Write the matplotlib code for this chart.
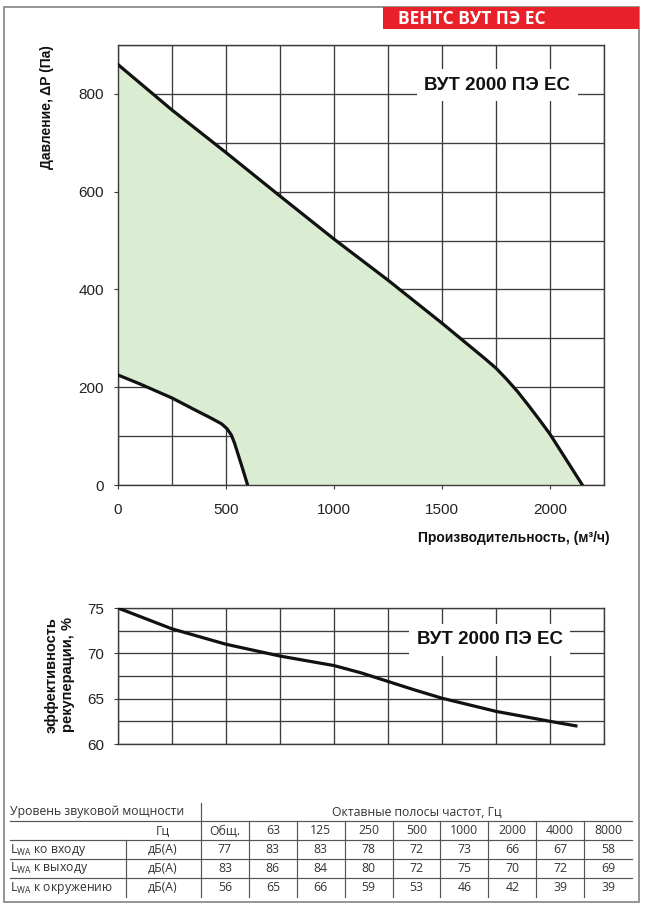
import numpy as np
import matplotlib
matplotlib.use('Agg')
import matplotlib.pyplot as plt
from matplotlib.patches import Rectangle
from matplotlib.ticker import MultipleLocator

plt.rcParams['font.family'] = ['Liberation Sans', 'DejaVu Sans']
plt.rcParams['mathtext.fontset'] = 'custom'
plt.rcParams['mathtext.rm'] = 'Open Sans'

# --- data ---
# upper pressure curve (max speed), m3/h vs Pa
flow_max = [0, 250, 500, 750, 1000, 1250, 1500, 1700, 1750, 1800, 1850, 1900, 1950, 2000, 2075, 2150]
pres_max = [860, 767, 680, 591, 503, 419, 331, 258, 239, 216, 191, 163, 134, 104, 52, 0]
# lower pressure curve (min speed)
flow_min = [0, 100, 250, 350, 430, 480, 505, 525, 540, 555, 575, 600]
pres_min = [225, 207, 178, 155, 137, 125, 115, 102, 85, 64, 36, 0]
# heat recovery efficiency, %
flow_eff = [0, 250, 500, 750, 1000, 1125, 1250, 1375, 1500, 1750, 2000, 2120]
eff = [75, 72.7, 71.0, 69.7, 68.65, 67.85, 66.9, 65.95, 65.05, 63.6, 62.5, 62.0]

model = 'ВУТ 2000 ПЭ ЕС'
header = 'ВЕНТС ВУТ ПЭ ЕС'

# sound power table
bands = ['Общ.', '63', '125', '250', '500', '1000', '2000', '4000', '8000']
row_names = [r'L$_{\rm WA}$ ко входу', r'L$_{\rm WA}$ к выходу', r'L$_{\rm WA}$ к окружению']
lwa_in = [77, 83, 83, 78, 72, 73, 66, 67, 58]
lwa_out = [83, 86, 84, 80, 72, 75, 70, 72, 69]
lwa_env = [56, 65, 66, 59, 53, 46, 42, 39, 39]

W, H = 650, 909
fig = plt.figure(figsize=(W / 100, H / 100), dpi=100)

# page layer in pixel coordinates (frame, red header, table)
page = fig.add_axes([0, 0, 1, 1])
page.set_xlim(0, W)
page.set_ylim(H, 0)
page.axis('off')
page.add_patch(Rectangle((4, 7), 635, 895, fill=False, ec='#8c8c8c', lw=1.3))
page.add_patch(Rectangle((383, 7), 256, 22, fc='#e8202a', ec='none'))
page.text(398, 18.5, header, color='white', fontsize=12.5, fontweight='bold',
          family=['Open Sans', 'DejaVu Sans'], va='center', ha='left')

grid_c = '#3c3c3c'


def style_axes(ax):
    for s in ax.spines.values():
        s.set_color(grid_c)
        s.set_linewidth(1.0)
    ax.grid(True, which='both', color=grid_c, lw=0.95)
    ax.set_axisbelow(True)
    ax.tick_params(which='major', direction='out', length=3, color=grid_c,
                   labelsize=11, labelcolor='#222')
    ax.tick_params(axis='y', pad=7)
    ax.tick_params(axis='x', pad=10)
    ax.tick_params(which='minor', length=0)


# --- pressure chart ---
ax1 = fig.add_axes([118 / W, 1 - 485 / H, 486 / W, 440 / H])
ax1.set_xlim(0, 2250)
ax1.set_ylim(0, 900)
ax1.xaxis.set_major_locator(MultipleLocator(500))
ax1.xaxis.set_minor_locator(MultipleLocator(250))
ax1.yaxis.set_major_locator(MultipleLocator(200))
ax1.yaxis.set_minor_locator(MultipleLocator(100))
style_axes(ax1)
ax1.set_xticks([0, 500, 1000, 1500, 2000])
ax1.set_yticks([0, 200, 400, 600, 800])
ax1.fill(np.r_[flow_max, flow_min[::-1]], np.r_[pres_max, pres_min[::-1]],
         color='#daecd1', lw=0, zorder=1)
ax1.plot(flow_max, pres_max, color='#111', lw=2.3, solid_joinstyle='round', zorder=3)
ax1.plot(flow_min, pres_min, color='#111', lw=2.3, solid_joinstyle='round', zorder=3)
ax1.text(1755, 818, model, fontsize=13.5, fontweight='bold', ha='center', va='center',
         color='#111', zorder=4,
         bbox=dict(boxstyle='square,pad=0.4', fc='white', ec='none'))

fig.text(610 / W, 1 - 538 / H, 'Производительность, (м³/ч)', fontsize=10,
         fontweight='bold', ha='right', va='center', color='#111')
fig.text(47 / W, 1 - 45 / H, 'Давление, ΔP (Па)', fontsize=10, fontweight='bold',
         rotation=90, ha='center', va='top', color='#111')

# --- efficiency chart ---
ax2 = fig.add_axes([118 / W, 1 - 744 / H, 486 / W, 136 / H])
ax2.set_xlim(0, 2250)
ax2.set_ylim(60, 75)
ax2.xaxis.set_major_locator(MultipleLocator(250))
ax2.yaxis.set_major_locator(MultipleLocator(5))
ax2.yaxis.set_minor_locator(MultipleLocator(2.5))
style_axes(ax2)
ax2.tick_params(axis='x', length=0, labelbottom=False)
ax2.plot(flow_eff, eff, color='#111', lw=2.3, solid_joinstyle='round', zorder=3)
ax2.text(1722, 71.5, model, fontsize=13.5, fontweight='bold', ha='center', va='center',
         color='#111', zorder=4,
         bbox=dict(boxstyle='square,pad=0.4', fc='white', ec='none'))
fig.text(60 / W, 1 - 675 / H, 'эффективность\nрекуперации, %', fontsize=10.5,
         fontweight='bold', rotation=90, ha='center', va='center',
         multialignment='center', linespacing=1.2, color='#111')

# --- sound power table ---
tf = dict(family=['Open Sans', 'DejaVu Sans'], fontsize=8.8, color='#333')
lc = dict(color='#555555', lw=0.85)
edges = np.linspace(201, 632, len(bands) + 1)
centers = (edges[:-1] + edges[1:]) / 2

page.text(10, 812, 'Уровень звуковой мощности', ha='left', va='center', **tf)
page.text((edges[0] + edges[-1]) / 2, 812, 'Октавные полосы частот, Гц',
          ha='center', va='center', **tf)
page.text(163, 831, 'Гц', ha='center', va='center', **tf)
for cx, b in zip(centers, bands):
    page.text(cx, 831, b, ha='center', va='center', **tf)

row_y = [849.5, 868.5, 887.5]
for y, name, vals in zip(row_y, row_names, [lwa_in, lwa_out, lwa_env]):
    page.text(10, y, name, ha='left', va='center', **tf)
    page.text(163, y, 'дБ(А)', ha='center', va='center', **tf)
    for cx, v in zip(centers, vals):
        page.text(cx, y, str(v), ha='center', va='center', **tf)

for y in [821, 840, 859, 878]:
    page.plot([10, edges[-1]], [y, y], **lc)
page.plot([edges[0], edges[0]], [803, 897], **lc)
for x in edges[1:-1]:
    page.plot([x, x], [821, 897], **lc)
page.plot([126, 126], [840, 897], **lc)

fig.savefig('out.png', dpi=100)
